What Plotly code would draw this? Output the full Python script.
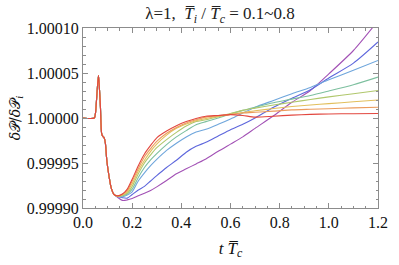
import plotly.graph_objects as go

# shared early part (all curves coincide)
t_common = [0.0, 0.046, 0.051, 0.057, 0.063, 0.067, 0.071, 0.076, 0.081, 0.086,
            0.091, 0.097, 0.106, 0.115, 0.126]
p_common = [1.0, 1.0, 1.000006, 1.000028, 1.0000475, 1.000032, 1.000012, 0.9999825,
            0.9999795, 0.999978, 0.999972, 0.9999525, 0.999935, 0.999922, 0.999915]

# diverging part
t_late = [0.14, 0.16, 0.18, 0.2, 0.225, 0.25, 0.275, 0.3, 0.34, 0.38, 0.42, 0.46,
          0.5, 0.55, 0.6, 0.65, 0.7, 0.775, 0.85, 0.925, 1.0, 1.1, 1.2]

ratio_labels = ["0.1", "0.2", "0.3", "0.4", "0.5", "0.6", "0.7", "0.8"]

p_01 = [0.999912, 0.9999085, 0.999909, 0.9999105, 0.9999135, 0.9999165, 0.9999195,
        0.9999235, 0.9999305, 0.999938, 0.9999435, 0.999949, 0.9999545, 0.999963,
        0.999971, 0.999979, 0.9999885, 1.0000025, 1.0000175, 1.0000305, 1.000049,
        1.000075, 1.000108]
p_02 = [0.999913, 0.9999115, 0.999911, 0.999915, 0.99992, 0.999924, 0.99993, 0.999936,
        0.999945, 0.999953, 0.999962, 0.9999685, 0.999973, 0.99998, 0.999987, 0.999993,
        1.0, 1.000012, 1.000022, 1.0000315, 1.0000445, 1.000061, 1.0000845]
p_03 = [0.9999125, 0.9999125, 0.9999145, 0.999918, 0.99993, 0.999939, 0.999947,
        0.999954, 0.999964, 0.999972, 0.999979, 0.9999844, 0.9999875, 0.999993,
        0.999999, 1.0000055, 1.000012, 1.0000195, 1.000027, 1.000034, 1.0000425,
        1.000053, 1.000064]
p_04 = [0.999913, 0.9999135, 0.9999155, 0.999921, 0.999934, 0.999945, 0.9999535,
        0.9999605, 0.9999705, 0.999979, 0.999986, 0.9999925, 0.999996, 1.0, 1.0000045,
        1.0000085, 1.000012, 1.000017, 1.000021, 1.000025, 1.00003, 1.000037, 1.0000455]
p_05 = [0.999913, 0.999914, 0.9999165, 0.999924, 0.999938, 0.99995, 0.999959, 0.999967,
        0.999976, 0.999984, 0.999991, 0.999996, 0.999998, 1.0000015, 1.000005,
        1.0000085, 1.000011, 1.0000145, 1.0000175, 1.0000205, 1.0000235, 1.000027,
        1.0000305]
p_06 = [0.9999135, 0.9999145, 0.999918, 0.999927, 0.999941, 0.999953, 0.999963,
        0.999971, 0.999981, 0.9999885, 0.9999933, 0.999997, 0.9999995, 1.0000018,
        1.000004, 1.000006, 1.000008, 1.0000105, 1.0000127, 1.0000145, 1.000016,
        1.000018, 1.00002]
p_07 = [0.9999135, 0.999915, 0.9999195, 0.99993, 0.999944, 0.999957, 0.999966,
        0.999974, 0.999983, 0.9999895, 0.9999945, 0.999998, 1.000001, 1.0000025,
        1.000004, 1.0000055, 1.0000064, 1.0000076, 1.000009, 1.0000097, 1.0000103,
        1.0000112, 1.000012]
p_08 = [0.9999135, 0.9999155, 0.999921, 0.999932, 0.999947, 0.99996, 0.9999695,
        0.999978, 0.9999855, 0.9999915, 0.999996, 0.9999995, 1.000002, 1.0000028,
        1.0000038, 1.0000028, 1.000001, 1.000002, 1.0000032, 1.000004, 1.0000045,
        1.0000048, 1.000005]

x_ticks = [0, 0.2, 0.4, 0.6, 0.8, 1.0, 1.2]
x_tick_labels = ["0.0", "0.2", "0.4", "0.6", "0.8", "1.0", "1.2"]
y_ticks = [0.9999, 0.99995, 1.0, 1.00005, 1.0001]
y_tick_labels = ["0.99990", "0.99995", "1.00000", "1.00005", "1.00010"]

series = [p_01, p_02, p_03, p_04, p_05, p_06, p_07, p_08]
colors = ["#a251b5", "#5d66dc", "#6fa6dc", "#7cbf9e", "#b0c76c", "#e2bf5c",
          "#eb9b5c", "#e2473f"]

fig = go.Figure()
for lab, vals, col in zip(ratio_labels, series, colors):
    fig.add_trace(go.Scatter(
        x=t_common + t_late, y=p_common + vals, mode="lines", name=lab,
        line=dict(color=col, width=1.1, shape="spline", smoothing=0.7),
        showlegend=False))

SERIF = "Liberation Serif"
axis_font = dict(family=SERIF, size=16, color="#111")
frame = "#8c8c8c"

fig.update_layout(
    width=399, height=265,
    margin=dict(l=83, r=11, t=28, b=49),
    paper_bgcolor="white", plot_bgcolor="white",
    font=axis_font,
    title=dict(text="λ=1,\u00a0\u00a0<i>T̅<sub>i</sub></i> / <i>T̅<sub>c</sub></i> = 0.1~0.8",
               x=220 / 399, xanchor="center", y=1 - 13 / 265, yanchor="middle",
               font=dict(family=SERIF, size=17, color="#222")),
    xaxis=dict(range=[0, 1.2], tickvals=x_ticks, ticktext=x_tick_labels,
               showgrid=False, zeroline=False, showline=True, linecolor=frame,
               linewidth=1, mirror="allticks", ticks="inside", ticklen=5,
               tickcolor=frame, tickfont=axis_font,
               minor=dict(ticks="inside", dtick=0.05, ticklen=2.5, tickcolor=frame),
               title=dict(text="<i>t T̅<sub>c</sub></i>", standoff=11,
                          font=dict(family=SERIF, size=17, color="#111"))),
    yaxis=dict(range=[0.9999, 1.0001], tickvals=y_ticks, ticktext=y_tick_labels,
               showgrid=False, zeroline=False, showline=True, linecolor=frame,
               linewidth=1, mirror="allticks", ticks="inside", ticklen=5,
               tickcolor=frame, tickfont=axis_font,
               minor=dict(ticks="inside", dtick=0.00001, ticklen=2.5, tickcolor=frame),
               title=dict(text="<i>δ</i>𝒫/<i>δ</i>𝒫<sub><i>i</i></sub>", standoff=2,
                          font=dict(family="DejaVu Serif", size=14, color="#111"))),
)

fig.write_html("out.html",
               config={"displayModeBar": False},
               post_script="document.body.style.margin='0';"
                           "document.body.style.padding='0';"
                           "document.body.style.overflow='hidden';")
